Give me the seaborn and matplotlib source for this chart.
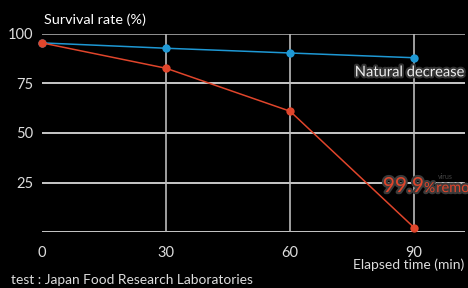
import pandas as pd
import seaborn as sns
import matplotlib.pyplot as plt
import matplotlib.patheffects as pe

minutes = [0, 30, 60, 90]
natural = [95.5, 92.8, 90.4, 88.0]
treated = [95.5, 82.7, 61.0, 2.2]
series_names = ['Natural decrease', '99.9% removal']
colors = ['#1e98d4', '#e0452b']

df = pd.DataFrame({
    'time': minutes * 2,
    'rate': natural + treated,
    'series': [series_names[0]] * 4 + [series_names[1]] * 4,
})

sns.set_style('dark', {'axes.facecolor': 'black', 'figure.facecolor': 'black'})
plt.rcParams['font.family'] = ['Lato', 'DejaVu Sans']

fig = plt.figure(figsize=(4.68, 2.88), dpi=100)
ax = fig.add_axes([0.0897, 0.1944, 0.9039, 0.6876])

sns.lineplot(data=df, x='time', y='rate', hue='series', palette=colors,
             marker='o', markersize=6, markeredgewidth=0, linewidth=1.1,
             legend=False, ax=ax, clip_on=False, zorder=3)

ax.set_xlim(0, 102.3)
ax.set_ylim(0, 100)
ax.set_xticks(minutes)
ax.set_yticks([25, 50, 75, 100])
ax.set_xlabel('')
ax.set_ylabel('')

for y in [25, 50, 75]:
    ax.axhline(y, color='#e8e8e8', lw=1.2, zorder=1)
ax.axhline(100, color='#aaaaaa', lw=1.2, zorder=1)
ax.axhline(0, color='#e8e8e8', lw=1.2, zorder=1)
for x in [30, 60, 90]:
    ax.axvline(x, color='#bbbbbb', lw=1.2, zorder=1)
ax.grid(False)

for s in ax.spines.values():
    s.set_visible(False)
ax.tick_params(length=0, colors='#dddddd', labelsize=10.5, pad=10)
ax.tick_params(axis='y', pad=6)

glow = [pe.withStroke(linewidth=3, foreground='#333333')]
fig.text(0.093, 0.915, 'Survival rate (%)', color='white', fontsize=10.4)
fig.text(0.758, 0.735, 'Natural decrease', color='#eeeeee', fontsize=10.6,
         path_effects=glow)
fig.text(0.754, 0.065, 'Elapsed time (min)', color='#dddddd', fontsize=10)
fig.text(0.024, 0.015, 'test : Japan Food Research Laboratories',
         color='#dddddd', fontsize=9.9)

# 99.9% removal label, clipped by the right edge like the original
red_glow = [pe.withStroke(linewidth=3, foreground='#3a3a3a')]
fig.text(0.818, 0.333, '99.9', color='#e0452b', fontsize=15,
         path_effects=red_glow)
fig.text(0.906, 0.333, '%', color='#e0452b', fontsize=10,
         path_effects=red_glow)
fig.text(0.932, 0.333, 'removal', color='#e0452b', fontsize=10.5,
         path_effects=red_glow)
fig.text(0.936, 0.38, 'virus', color='#444444', fontsize=5)

fig.savefig('out.png', dpi=100, facecolor='black')
